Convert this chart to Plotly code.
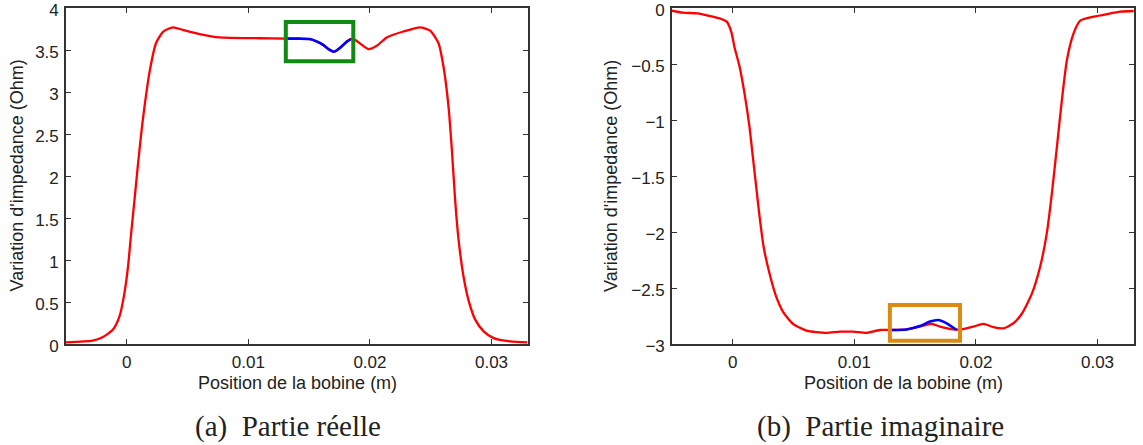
import plotly.graph_objects as go

# ---------------- data ----------------
# (a) real part
real_x = [-0.005, -0.0028, -0.0020, -0.00115, -0.0006, -0.0002, 0.0001, 0.00036, 0.00063, 0.0009,
          0.00119, 0.00146, 0.0019, 0.0024, 0.0030, 0.0038, 0.0046, 0.0060, 0.0076, 0.0109,
          0.0131, 0.0142, 0.01506, 0.01565, 0.01616, 0.0166, 0.01704, 0.0174, 0.0178, 0.0181,
          0.01842, 0.01877, 0.01987, 0.02056, 0.02138, 0.02275, 0.02412, 0.02495, 0.02564, 0.02605,
          0.02646, 0.02674, 0.02701, 0.02729, 0.0277, 0.02811, 0.02866, 0.02935, 0.03017, 0.03155,
          0.03293]
real_y = [0.02, 0.04, 0.08, 0.17, 0.33, 0.60, 0.92, 1.32, 1.71, 2.11,
          2.51, 2.83, 3.26, 3.58, 3.72, 3.77, 3.74, 3.69, 3.65, 3.64,
          3.635, 3.635, 3.63, 3.60, 3.56, 3.51, 3.48, 3.51, 3.56, 3.60,
          3.63, 3.62, 3.51, 3.55, 3.65, 3.72, 3.77, 3.73, 3.58, 3.30,
          2.83, 2.31, 1.71, 1.24, 0.80, 0.52, 0.29, 0.15, 0.07, 0.03,
          0.02]
real_zoom_x = [0.0131, 0.0142, 0.01506, 0.01565, 0.01616, 0.0166, 0.01704, 0.0174, 0.0178, 0.0181, 0.01842]
real_zoom_y = [3.635, 3.635, 3.63, 3.60, 3.56, 3.51, 3.48, 3.51, 3.56, 3.60, 3.63]
real_box = [0.01308, 0.01863, 3.365, 3.833]  # x0, x1, y0, y1

# (b) imaginary part
imag_x = [-0.00502, -0.00412, -0.00289, -0.00192, -0.00096, -0.0005, -0.00013, 0.00014, 0.00055, 0.00096,
          0.00137, 0.00165, 0.00193, 0.0022, 0.00253, 0.00302, 0.00358, 0.00412, 0.00495, 0.00605,
          0.0077, 0.0088, 0.0099, 0.0110, 0.0121, 0.0132, 0.01429, 0.01539, 0.01636, 0.01704,
          0.01814, 0.01883, 0.01979, 0.02061, 0.02143, 0.02226, 0.02308, 0.02377, 0.0246, 0.02528,
          0.02583, 0.02625, 0.02666, 0.02707, 0.02749, 0.02803, 0.02858, 0.02968, 0.03078, 0.03188,
          0.03298]
imag_y = [-0.024, -0.042, -0.048, -0.071, -0.098, -0.122, -0.21, -0.35, -0.52, -0.76,
          -1.06, -1.33, -1.60, -1.86, -2.13, -2.37, -2.58, -2.71, -2.82, -2.88,
          -2.90, -2.89, -2.89, -2.90, -2.875, -2.875, -2.87, -2.845, -2.82, -2.845,
          -2.87, -2.87, -2.845, -2.82, -2.85, -2.86, -2.815, -2.73, -2.55, -2.31,
          -2.01, -1.65, -1.24, -0.82, -0.46, -0.226, -0.113, -0.078, -0.054, -0.033,
          -0.027]
imag_zoom_x = [0.0131, 0.01429, 0.01539, 0.01622, 0.0169, 0.01759, 0.01842]
imag_zoom_y = [-2.875, -2.87, -2.84, -2.80, -2.786, -2.815, -2.875]
imag_box = [0.01292, 0.01869, -2.97, -2.652]

x_ticks = [0, 0.01, 0.02, 0.03]
x_ticktext = ["0", "0.01", "0.02", "0.03"]
real_yticks = [0, 0.5, 1, 1.5, 2, 2.5, 3, 3.5, 4]
real_yticktext = ["0", "0.5", "1", "1.5", "2", "2.5", "3", "3.5", "4"]
imag_yticks = [-3, -2.5, -2, -1.5, -1, -0.5, 0]
imag_yticktext = ["\u22123", "\u22122.5", "\u22122", "\u22121.5", "\u22121", "\u22120.5", "0"]

x_title = "Position de la bobine (m)"
y_title = "Variation d'impedance (Ohm)"
captions = ["(a)  Partie réelle", "(b)  Partie imaginaire"]

# ---------------- figure ----------------
W, H = 1143, 445
fig = go.Figure()

red_line = dict(color="#ff0000", width=2.3, shape="spline", smoothing=0.6)
blue_line = dict(color="#0000ff", width=2.6, shape="spline", smoothing=0.6)

fig.add_trace(go.Scatter(x=real_x, y=real_y, mode="lines", line=red_line,
                         xaxis="x", yaxis="y", showlegend=False))
fig.add_trace(go.Scatter(x=real_zoom_x, y=real_zoom_y, mode="lines", line=blue_line,
                         xaxis="x", yaxis="y", showlegend=False))
fig.add_trace(go.Scatter(x=imag_x, y=imag_y, mode="lines", line=red_line,
                         xaxis="x2", yaxis="y2", showlegend=False))
fig.add_trace(go.Scatter(x=imag_zoom_x, y=imag_zoom_y, mode="lines", line=blue_line,
                         xaxis="x2", yaxis="y2", showlegend=False))

fig.add_shape(type="rect", xref="x", yref="y", x0=real_box[0], x1=real_box[1], y0=real_box[2], y1=real_box[3],
              line=dict(color="#118a11", width=4))
fig.add_shape(type="rect", xref="x2", yref="y2", x0=imag_box[0], x1=imag_box[1], y0=imag_box[2], y1=imag_box[3],
              line=dict(color="#dd8a14", width=4))

tickfont = dict(family="Liberation Sans, Arial, sans-serif", size=17, color="#222222")
axis_common = dict(showline=True, linecolor="#333333", linewidth=1.6, mirror="allticks",
                   ticks="inside", ticklen=5, tickcolor="#333333", tickwidth=1.2,
                   showgrid=False, zeroline=False, tickfont=tickfont, ticklabeloverflow="allow",
                   automargin=False)

ytop = 1 - 8 / H
ybot = 1 - 344 / H
fig.update_layout(
    width=W, height=H,
    margin=dict(l=0, r=0, t=0, b=0, pad=0, autoexpand=False),
    paper_bgcolor="white", plot_bgcolor="white",
    xaxis=dict(domain=[66 / W, 528 / W], range=[-0.005, 0.033], tickvals=x_ticks, ticktext=x_ticktext,
               anchor="y", ticklabelstandoff=2, **axis_common),
    yaxis=dict(domain=[ybot, ytop], range=[0, 4], tickvals=real_yticks, ticktext=real_yticktext,
               anchor="x", ticklabelstandoff=2, ticklabelshift=2, **axis_common),
    xaxis2=dict(domain=[672 / W, 1134 / W], range=[-0.005, 0.033], tickvals=x_ticks, ticktext=x_ticktext,
                anchor="y2", ticklabelstandoff=2, **axis_common),
    yaxis2=dict(domain=[ybot, ytop], range=[-3, 0], tickvals=imag_yticks, ticktext=imag_yticktext,
                anchor="x2", ticklabelstandoff=2, ticklabelshift=2, **axis_common),
)

titlefont = dict(family="Liberation Sans, Arial, sans-serif", size=18, color="#222222")
capfont = dict(family="Liberation Serif, Times New Roman, serif", size=29, color="#222222")


def px(x):
    return x / W


def py(y):
    return 1 - y / H


annots = [
    dict(x=px(297), y=py(383), text=x_title, font=titlefont),
    dict(x=px(903), y=py(383), text=x_title, font=titlefont),
    dict(x=px(16.5), y=py(176), text=y_title, font=titlefont, textangle=-90),
    dict(x=px(611), y=py(176), text=y_title, font=titlefont, textangle=-90),
    dict(x=px(287.5), y=py(426), text=captions[0], font=capfont),
    dict(x=px(880), y=py(426), text=captions[1], font=capfont),
]
for a in annots:
    fig.add_annotation(xref="paper", yref="paper", showarrow=False, xanchor="center", yanchor="middle", **a)

fig.write_html("out.html")
